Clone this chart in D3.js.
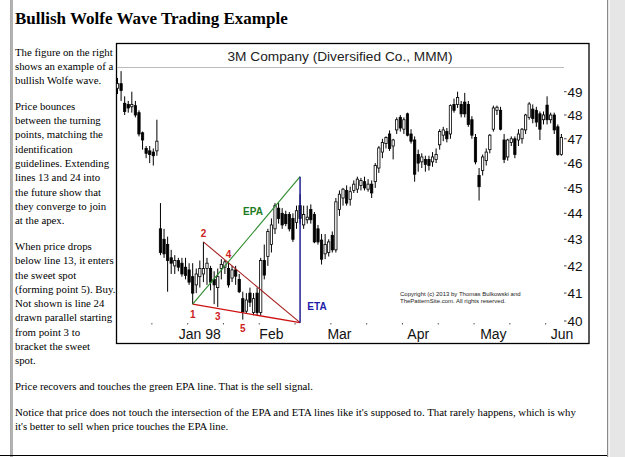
<!DOCTYPE html>
<html>
<head>
<meta charset="utf-8">
<script src="https://cdn.jsdelivr.net/npm/d3@7"></script>
<style>
  body { margin: 0; background: #fff; overflow: hidden; }
  svg { display: block; }
</style>
</head>
<body>
<div id="page"></div>
<script>
// daily candles, Dec 97 - May 98 (index = trading day)
const opens = [49.15, 49.35, 48.5, 48.45, 48.35, 48.4, 48.1, 47.25, 46.6, 46.5, 46.45, 46.5,
  43.4, 43.0, 42.8, 42.3, 42.0, 42.2, 42.1, 41.95, 41.85, 41.6, 41.3, 41.6, 41.7, 41.9, 41.9, 41.5, 41.2,
  41.9, 41.95, 41.9, 41.55, 41.85, 41.5, 40.8, 40.35, 41.0, 40.3, 41.0, 40.3, 42.2, 42.35, 42.8, 43.4,
  44.2, 44.0, 43.95, 43.95, 43.8, 43.65, 44.3, 43.55, 43.75, 44.15, 43.95, 43.4, 42.97, 42.45, 42.5, 43.15,
  42.6, 44.15, 44.6, 44.9, 44.55, 44.9, 44.95, 45.1, 45.25, 44.95, 45.15, 45.25, 45.8, 46.45, 46.8, 47.2,
  46.7, 47.37, 47.9, 47.4, 48.05, 47.2, 46.95, 46.35, 46.05, 46.15, 46.15, 46.05, 46.15, 46.75, 47.15, 47.3,
  47.2, 48.45, 48.45, 48.45, 48.55, 48.45, 47.8, 47.05, 45.5, 45.7, 46.1, 46.55, 47.4, 48.2, 48.2, 46.95,
  46.25, 46.85, 47.0, 46.95, 47.0, 47.37, 47.9, 48.25, 48.2, 48.05, 47.8, 48.42, 47.8, 48.0, 47.5, 46.35];
const highs = [49.6, 49.9, 48.8, 48.6, 49.0, 48.6, 48.2, 47.3, 46.7, 46.7, 46.6, 47.8,
  44.4, 43.4, 43.1, 42.6, 42.4, 42.3, 42.3, 42.3, 42.1, 42.1, 41.9, 42.2, 42.9, 42.3, 42.0, 41.8, 41.9,
  42.25, 42.22, 42.15, 42.0, 42.0, 41.7, 41.05, 41.0, 41.2, 41.0, 41.2, 42.3, 42.8, 43.4, 43.8, 44.4,
  44.4, 44.2, 44.1, 44.05, 44.0, 44.3, 44.75, 44.3, 44.3, 44.35, 44.05, 43.55, 43.2, 43.2, 43.0, 43.3,
  44.6, 44.9, 45.0, 45.1, 45.05, 45.3, 45.45, 45.4, 45.45, 45.35, 45.3, 46.0, 46.7, 47.0, 47.1, 47.35,
  47.0, 47.9, 48.0, 47.9, 48.1, 47.4, 47.1, 46.55, 46.4, 46.3, 46.3, 46.45, 46.6, 47.4, 47.5, 47.45,
  48.45, 48.7, 49.0, 48.6, 48.95, 48.6, 47.95, 47.2, 45.8, 46.35, 46.6, 47.2, 48.4, 48.4, 48.35, 47.2,
  47.0, 47.1, 47.1, 47.4, 47.45, 48.05, 48.55, 48.45, 48.35, 48.15, 48.15, 48.8, 48.1, 48.1, 47.6, 47.2];
const lows = [48.9, 48.6, 48.0, 48.1, 48.1, 47.9, 47.1, 46.55, 46.2, 46.0, 45.9, 46.3,
  42.4, 42.3, 41.05, 41.7, 41.7, 41.8, 41.6, 41.5, 41.3, 40.6, 41.0, 41.2, 41.4, 41.3, 41.1, 40.6, 40.5,
  41.5, 41.7, 41.2, 41.4, 41.3, 41.0, 40.05, 40.25, 40.5, 40.2, 40.2, 40.2, 41.5, 42.0, 42.5, 43.2,
  43.6, 43.4, 43.5, 43.3, 42.9, 43.4, 43.6, 43.4, 43.6, 43.6, 42.85, 42.8, 42.05, 42.25, 42.35, 42.5,
  42.5, 43.9, 44.3, 44.3, 44.3, 44.8, 44.8, 44.9, 44.9, 44.85, 44.6, 45.0, 45.6, 46.2, 46.6, 46.5,
  46.15, 47.2, 47.3, 47.2, 47.1, 46.8, 45.25, 45.65, 45.8, 45.65, 45.7, 45.85, 46.0, 46.55, 46.9, 46.85,
  47.0, 48.1, 48.3, 47.9, 47.9, 47.5, 47.0, 45.95, 44.5, 45.5, 45.9, 46.4, 47.3, 48.0, 47.35, 46.0,
  46.1, 46.7, 46.2, 46.7, 46.8, 47.2, 47.8, 47.65, 47.5, 46.95, 47.6, 47.6, 47.65, 47.2, 46.3, 46.3];
const closes = [49.35, 49.05, 48.15, 48.3, 48.45, 48.0, 47.2, 46.95, 46.4, 46.35, 46.3, 46.9,
  42.5, 42.45, 42.2, 42.1, 42.2, 41.95, 41.7, 41.65, 41.4, 41.0, 41.7, 41.9, 41.9, 42.1, 41.4, 41.3, 41.6,
  42.05, 42.15, 41.3, 41.85, 41.62, 41.05, 40.32, 40.75, 40.67, 40.8, 40.3, 42.2, 41.66, 43.3, 43.55, 44.3,
  43.8, 43.55, 43.6, 43.4, 43.0, 44.1, 43.8, 43.95, 43.85, 43.75, 42.9, 42.9, 42.25, 42.8, 42.9, 42.6,
  44.45, 44.75, 44.95, 44.4, 44.85, 45.15, 45.35, 45.3, 45.0, 45.15, 44.8, 45.9, 46.62, 46.85, 47.05, 46.6,
  46.95, 47.8, 47.45, 47.8, 47.15, 46.9, 45.55, 46.0, 46.25, 45.95, 45.9, 46.25, 46.35, 47.3, 47.37, 47.0,
  48.4, 48.2, 48.75, 48.05, 48.05, 47.6, 47.15, 46.05, 45.05, 46.25, 46.45, 47.15, 48.3, 48.33, 47.4, 46.15,
  46.95, 47.0, 46.35, 47.2, 47.4, 48.0, 48.47, 47.85, 47.7, 47.4, 48.0, 47.8, 48.0, 47.37, 46.35, 47.05];

const monthLabels = ["Jan 98", "Feb", "Mar", "Apr", "May", "Jun"];
const monthStarts = [23, 43, 62, 84, 105, 125];
const priceTicks = [40, 41, 42, 43, 44, 45, 46, 47, 48, 49];
const dayTicks = [10, 20, 30, 40, 50, 60, 70, 80, 90, 100, 110, 120];

// wolfe wave turning points (trading day, price)
const wolfeLabels = ["1", "2", "3", "4", "5"];
const wolfeDays = [21, 24, 28, 31, 35];
const wolfePrices = [40.6, 42.9, 40.48, 42.2, 40.05];
const apex = {day: 51, price: 39.94};
const epaTop = {day: 51, price: 45.45};

const leftText = [
  ["The figure on the right", "shows an example of a", "bullish Wolfe wave."],
  ["Price bounces", "between the turning", "points, matching the", "identification",
   "guidelines. Extending", "lines 13 and 24 into", "the future show that",
   "they converge to join", "at the apex."],
  ["When price drops", "below line 13, it enters", "the sweet spot",
   "(forming point 5). Buy.", "Not shown is line 24", "drawn parallel starting",
   "from point 3 to", "bracket the sweet", "spot."]
];
const bottomText = [
  ["Price recovers and touches the green EPA line. That is the sell signal."],
  ["Notice that price does not touch the intersection of the EPA and ETA lines like it's supposed to. That rarely happens, which is why",
   "it's better to sell when price touches the EPA line."]
];

const W = 625, H = 457;
const serif = "'Liberation Serif', 'Times New Roman', serif";
const sans = "'Liberation Sans', Arial, sans-serif";

const svg = d3.select("#page").append("svg")
  .attr("width", W).attr("height", H);

svg.append("rect").attr("width", W).attr("height", H).attr("fill", "#fff");

// page frame
svg.append("rect").attr("x", 607).attr("y", 0).attr("width", 18).attr("height", H).attr("fill", "#e6e6e6");
svg.append("line").attr("x1", 607.5).attr("x2", 607.5).attr("y1", 0).attr("y2", H).attr("stroke", "#888");
svg.append("line").attr("x1", 609.5).attr("x2", 609.5).attr("y1", 0).attr("y2", H).attr("stroke", "#f6f6f6");
svg.append("line").attr("x1", 10.5).attr("x2", 10.5).attr("y1", 0).attr("y2", H).attr("stroke", "#aaa");
svg.append("line").attr("x1", 12).attr("x2", 12).attr("y1", 0).attr("y2", H).attr("stroke", "#666");
svg.append("line").attr("x1", 0).attr("x2", 607).attr("y1", 455.5).attr("y2", 455.5).attr("stroke", "#000");

// heading and article text
svg.append("text").attr("x", 15).attr("y", 24)
  .attr("font-family", serif).attr("font-weight", "bold").attr("font-size", 17)
  .text("Bullish Wolfe Wave Trading Example");

const lineH = 14.3, paraGap = 25.7;
let base = 55.5;
leftText.forEach((para, pi) => {
  if (pi > 0) base += paraGap - lineH;
  para.forEach(t => {
    svg.append("text").attr("x", 15).attr("y", base)
      .attr("font-family", serif).attr("font-size", 10.8).attr("fill", "#000").text(t);
    base += lineH;
  });
});
bottomText.forEach(para => {
  base += paraGap - lineH;
  para.forEach(t => {
    svg.append("text").attr("x", 15).attr("y", base)
      .attr("font-family", serif).attr("font-size", 10.8).attr("fill", "#000").text(t);
    base += lineH;
  });
});

// chart
const frame = {left: 116.5, top: 43.5, right: 589, bottom: 343.5};
svg.append("rect").attr("x", frame.left).attr("y", frame.top)
  .attr("width", frame.right - frame.left).attr("height", frame.bottom - frame.top)
  .attr("fill", "#fff").attr("stroke", "#000").attr("stroke-width", 1.3);

svg.append("text").attr("x", 340).attr("y", 60.5).attr("text-anchor", "middle")
  .attr("font-family", sans).attr("font-size", 13.7).attr("fill", "#222")
  .text("3M Company (Diversified Co., MMM)");
svg.append("line").attr("x1", 117).attr("x2", 564).attr("y1", 67.5).attr("y2", 67.5)
  .attr("stroke", "#bbb").attr("stroke-width", 1.2);

const x = d3.scaleLinear().domain([0, 124]).range([117.5, 561.4]);
const y = d3.scaleLog().domain([40, 49]).range([321, 91.7]);

// price axis on the right
const yAxis = svg.append("g");
yAxis.selectAll("line").data(priceTicks).join("line")
  .attr("x1", 564).attr("x2", 566.5)
  .attr("y1", d => y(d)).attr("y2", d => y(d))
  .attr("stroke", "#444");
yAxis.selectAll("text").data(priceTicks).join("text")
  .attr("x", 567.5).attr("y", d => y(d)).attr("dy", "0.36em")
  .attr("font-family", sans).attr("font-size", 13.5).attr("fill", "#111")
  .text(d => d);

// time axis
const xAxis = svg.append("g");
xAxis.selectAll("rect").data(dayTicks).join("rect")
  .attr("x", d => x(d - 0.4) - 0.5).attr("y", 323).attr("width", 1).attr("height", 1.5)
  .attr("fill", "#555");
xAxis.selectAll("text").data(monthLabels).join("text")
  .attr("x", (d, i) => x(Math.min(monthStarts[i], 124.2)))
  .attr("y", 339).attr("text-anchor", "middle")
  .attr("font-family", sans).attr("font-size", 14).attr("fill", "#111")
  .text(d => d);

// candles
const candles = d3.range(opens.length).map(i => ({i, o: opens[i], h: highs[i], l: lows[i], c: closes[i]}));
const bw = 2.3;
const cg = svg.append("g");
cg.selectAll("line").data(candles).join("line")
  .attr("x1", d => x(d.i)).attr("x2", d => x(d.i))
  .attr("y1", d => y(d.h)).attr("y2", d => y(d.l))
  .attr("stroke", "#000").attr("stroke-width", 1);
cg.selectAll("rect").data(candles).join("rect")
  .attr("x", d => x(d.i) - bw / 2).attr("width", bw)
  .attr("y", d => y(Math.max(d.o, d.c)))
  .attr("height", d => Math.max(0.8, Math.abs(y(d.o) - y(d.c))))
  .attr("fill", d => d.c >= d.o ? "#fff" : "#000")
  .attr("stroke", "#000").attr("stroke-width", 0.8);

// wolfe wave lines
const wg = svg.append("g").attr("fill", "none");
const p = k => [x(wolfeDays[k]), y(wolfePrices[k])];
const ax = [x(apex.day), y(apex.price)];
const et = [x(epaTop.day), y(epaTop.price)];
wg.append("line").attr("x1", p(0)[0]).attr("y1", p(0)[1]).attr("x2", ax[0]).attr("y2", ax[1])
  .attr("stroke", "#cc1111").attr("stroke-width", 1.3);
wg.append("line").attr("x1", p(1)[0]).attr("y1", p(1)[1]).attr("x2", ax[0]).attr("y2", ax[1])
  .attr("stroke", "#a52020").attr("stroke-width", 1.1);
wg.append("line").attr("x1", p(0)[0]).attr("y1", p(0)[1]).attr("x2", et[0]).attr("y2", et[1])
  .attr("stroke", "#2b8a2b").attr("stroke-width", 1.1);
wg.append("line").attr("x1", et[0]).attr("y1", et[1]).attr("x2", ax[0]).attr("y2", ax[1])
  .attr("stroke", "#10108a").attr("stroke-width", 1.4);

const labelOffset = [10, -9, 9, -6, 9];
svg.append("g").selectAll("text").data(wolfeLabels).join("text")
  .attr("x", (d, k) => x(wolfeDays[k]))
  .attr("y", (d, k) => y(wolfePrices[k]) + labelOffset[k])
  .attr("dy", "0.36em").attr("text-anchor", "middle")
  .attr("font-family", sans).attr("font-weight", "bold").attr("font-size", 10)
  .attr("fill", "#cc2222")
  .text(d => d);

svg.append("text").attr("x", 253).attr("y", 211.5).attr("dy", "0.36em").attr("text-anchor", "middle")
  .attr("font-family", sans).attr("font-weight", "bold").attr("font-size", 10).attr("fill", "#1e7a1e")
  .text("EPA");
svg.append("text").attr("x", 317).attr("y", 306).attr("dy", "0.36em").attr("text-anchor", "middle")
  .attr("font-family", sans).attr("font-weight", "bold").attr("font-size", 10).attr("fill", "#1c1ca8")
  .text("ETA");

// copyright note
svg.append("text").attr("x", 400).attr("y", 295.5)
  .attr("font-family", sans).attr("font-size", 6).attr("fill", "#222")
  .text("Copyright (c) 2013 by Thomas Bulkowski and");
svg.append("text").attr("x", 400).attr("y", 302.5)
  .attr("font-family", sans).attr("font-size", 6).attr("fill", "#222")
  .text("ThePatternSite.com.  All rights reserved.");
</script>
</body>
</html>
